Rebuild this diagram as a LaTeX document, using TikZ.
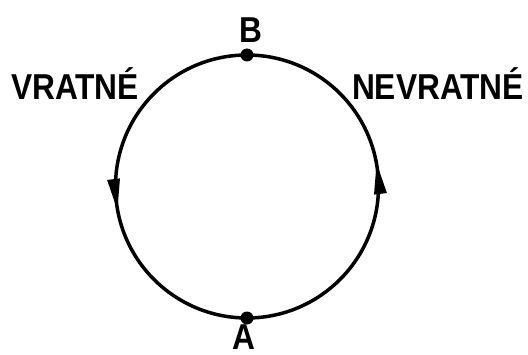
\documentclass[tikz,border=0pt]{standalone}
\usepackage{fontspec}
\usetikzlibrary{decorations.markings}
\newfontfamily\lblfont[FakeStretch=0.88]{Liberation Sans}

\begin{document}
\begin{tikzpicture}[x=1pt,y=1pt,
    lbl/.style={font=\lblfont\bfseries\fontsize{36}{36}\selectfont, inner sep=0pt},
    dot/.style={circle, fill, inner sep=0pt, minimum size=13pt},
    midarrow/.style={postaction={decorate}, decoration={markings,
        mark=at position 0.54 with {\fill (7pt,0) -- (-24pt,6.5pt) -- (-24pt,-6.5pt) -- cycle;}}}]
    \useasboundingbox (0,0) rectangle (528,354);

    % points on the circle
    \node[dot] (B) at (247,299) {};
    \node[dot] (A) at (247,36) {};

    % labels
    \node[lbl] (labB) at (251,324) {B};
    \node[lbl] (labA) at (244,16.5) {A};
    \node[lbl] (vrat) at (75,270) {VRATNÉ};
    \node[lbl] (nevrat) at (438,270) {NEVRATNÉ};

    % the two halves
    \draw[line width=3.5pt, midarrow] (B.center) arc[start angle=90, end angle=270, radius=131.5];
    \draw[line width=3.5pt, midarrow] (A.center) arc[start angle=-90, end angle=90, radius=131.5];
\end{tikzpicture}
\end{document}
